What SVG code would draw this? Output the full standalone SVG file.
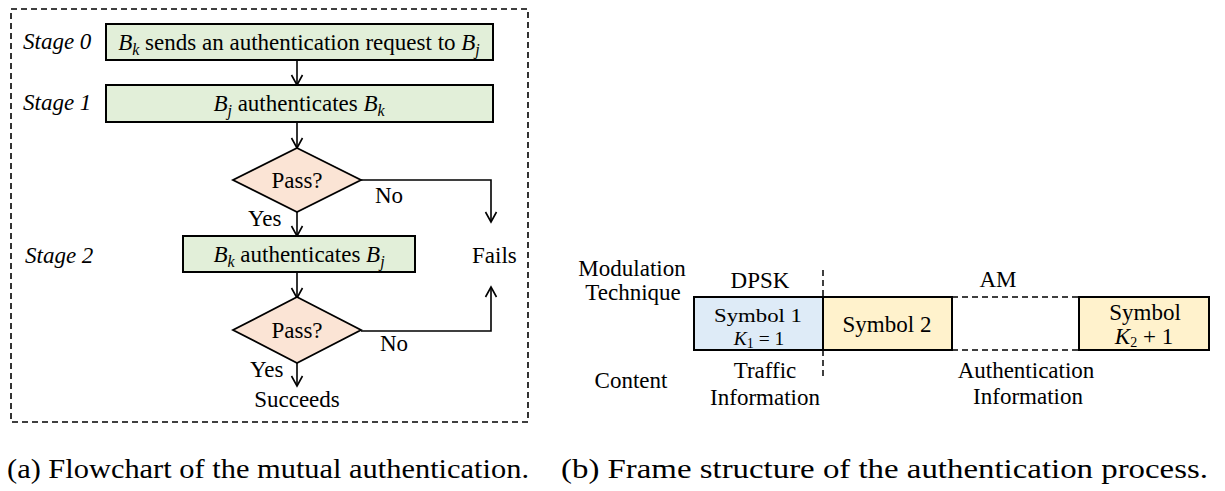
<svg xmlns="http://www.w3.org/2000/svg" width="1225" height="491" viewBox="0 0 1225 491">
<style>
text{font-family:"Liberation Serif","Times New Roman",serif;font-size:23px;fill:#000}
.c{text-anchor:middle}
.it{font-style:italic}
.sub{font-size:16px;font-style:italic}
.subn{font-size:14px}
.sm{font-size:19.5px}
.box{fill:#e2efd9;stroke:#000;stroke-width:2}
.dia{fill:#fbe4d5;stroke:#000;stroke-width:1.8}
.ln{fill:none;stroke:#000;stroke-width:1.6}
.cap{font-size:28px}
</style>
<defs>
<marker id="ah" markerUnits="userSpaceOnUse" markerWidth="14" markerHeight="14" viewBox="-12 -7 14 14" refX="0" refY="0" orient="auto">
<path d="M-10,-5.5 L0,0 L-10,5.5" fill="none" stroke="#000" stroke-width="1.6"/>
</marker>
</defs>
<rect x="11" y="9" width="517" height="413" fill="none" stroke="#000" stroke-width="1.6" stroke-dasharray="6,4"/>
<g id="connectors">
<line class="ln" x1="297" y1="60" x2="297" y2="85" marker-end="url(#ah)"/>
<line class="ln" x1="297" y1="122" x2="297" y2="148" marker-end="url(#ah)"/>
<line class="ln" x1="297" y1="212" x2="297" y2="236" marker-end="url(#ah)"/>
<polyline class="ln" points="361,180 491,180 491,222" marker-end="url(#ah)"/>
<line class="ln" x1="297" y1="272" x2="297" y2="298" marker-end="url(#ah)"/>
<polyline class="ln" points="361,331 491,331 491,287" marker-end="url(#ah)"/>
<line class="ln" x1="297" y1="363" x2="297" y2="386" marker-end="url(#ah)"/>
</g>
<g id="stage0">
<text class="it" x="23" y="49">Stage 0</text>
<rect class="box" x="106" y="24" width="387" height="36"/>
<text class="c" x="299" y="50"><tspan class="it">B</tspan><tspan class="sub" dy="5">k</tspan><tspan dy="-5"> sends an authentication request to </tspan><tspan class="it">B</tspan><tspan class="sub" dy="5">j</tspan></text>
</g>
<g id="stage1">
<text class="it" x="23" y="110">Stage 1</text>
<rect class="box" x="106" y="85" width="387" height="37"/>
<text class="c" x="299" y="111"><tspan class="it">B</tspan><tspan class="sub" dy="5">j</tspan><tspan dy="-5"> authenticates </tspan><tspan class="it">B</tspan><tspan class="sub" dy="5">k</tspan></text>
</g>
<g id="pass1">
<polygon class="dia" points="297,148 361,180 297,212 233,180"/>
<text class="c" x="297" y="188">Pass?</text>
<text x="375" y="203">No</text>
<text x="248" y="226">Yes</text>
</g>
<g id="stage2">
<text class="it" x="25" y="263">Stage 2</text>
<rect class="box" x="183" y="236" width="232" height="36"/>
<text class="c" x="299" y="262"><tspan class="it">B</tspan><tspan class="sub" dy="5">k</tspan><tspan dy="-5"> authenticates </tspan><tspan class="it">B</tspan><tspan class="sub" dy="5">j</tspan></text>
</g>
<g id="fails"><text x="472" y="263">Fails</text></g>
<g id="pass2">
<polygon class="dia" points="297,297 361,330 297,363 233,330"/>
<text class="c" x="297" y="338">Pass?</text>
<text x="380" y="351">No</text>
<text x="250" y="377">Yes</text>
</g>
<g id="succeeds"><text class="c" x="297" y="407">Succeeds</text></g>
<g id="frame">
<text class="c" x="632" y="276">Modulation</text>
<text class="c" x="633" y="300">Technique</text>
<text class="c" x="631" y="388">Content</text>
<text class="c" x="760" y="288">DPSK</text>
<text class="c" x="998" y="287">AM</text>
<line x1="823" y1="270" x2="823" y2="378" stroke="#000" stroke-width="1.5" stroke-dasharray="6,4"/>
<g id="sym1">
<rect x="694" y="297" width="129" height="53" fill="#deebf7" stroke="#000" stroke-width="2"/>
<text class="c sm" x="758" y="322" textLength="88" lengthAdjust="spacingAndGlyphs">Symbol 1</text>
<text class="c sm" x="759" y="345"><tspan class="it">K</tspan><tspan class="subn" dy="3">1</tspan><tspan dy="-3"> = 1</tspan></text>
</g>
<g id="sym2">
<rect x="823" y="297" width="129" height="53" fill="#fff2cc" stroke="#000" stroke-width="2"/>
<text class="c" x="887" y="332">Symbol 2</text>
</g>
<g id="gap">
<line x1="952" y1="297" x2="1079" y2="297" stroke="#000" stroke-width="1.5" stroke-dasharray="6,4"/>
<line x1="952" y1="350" x2="1079" y2="350" stroke="#000" stroke-width="1.5" stroke-dasharray="6,4"/>
</g>
<g id="symK">
<rect x="1079" y="297" width="130" height="53" fill="#fff2cc" stroke="#000" stroke-width="2"/>
<text class="c" x="1145" y="320">Symbol</text>
<text class="c" x="1144" y="344"><tspan class="it">K</tspan><tspan class="subn" dy="3">2</tspan><tspan dy="-3"> + 1</tspan></text>
</g>
<text class="c" x="765" y="378">Traffic</text>
<text class="c" x="765" y="405">Information</text>
<text class="c" x="1026" y="378">Authentication</text>
<text class="c" x="1028" y="404">Information</text>
</g>
<text class="cap" x="7" y="478" textLength="522" lengthAdjust="spacingAndGlyphs">(a) Flowchart of the mutual authentication.</text>
<text class="cap" x="561" y="478" textLength="647" lengthAdjust="spacingAndGlyphs">(b) Frame structure of the authentication process.</text>
</svg>
